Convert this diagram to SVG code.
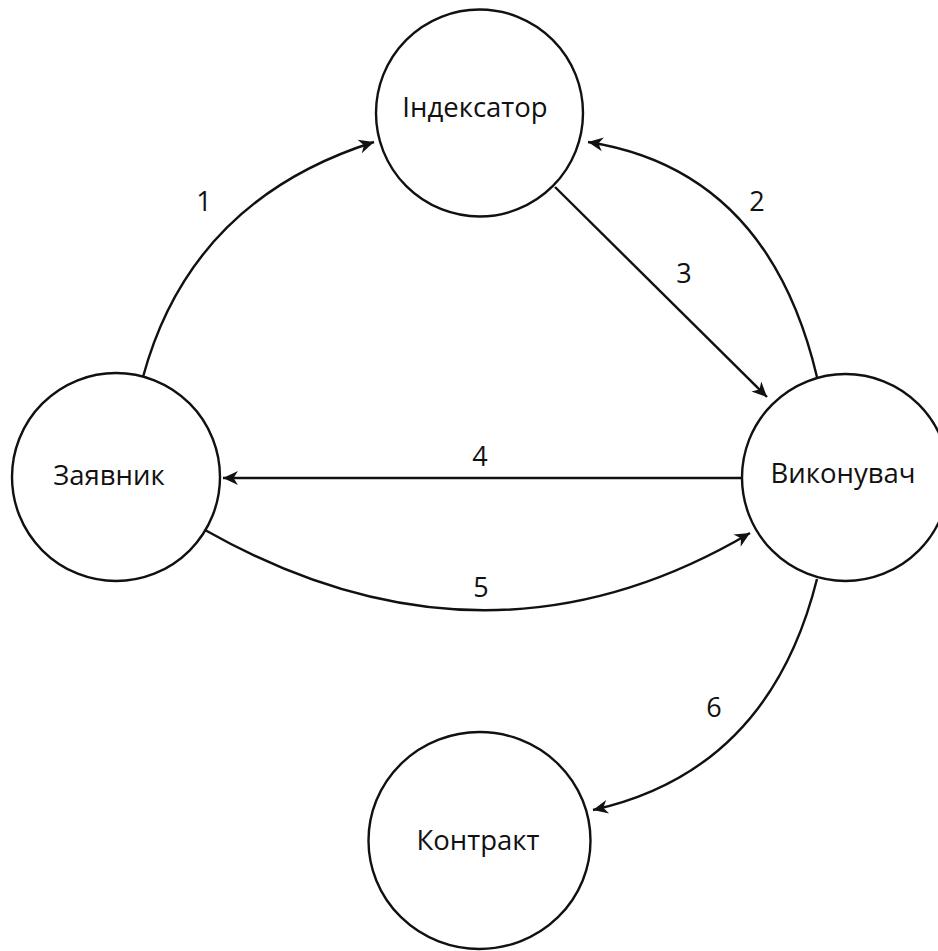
<svg xmlns="http://www.w3.org/2000/svg" width="938" height="951" viewBox="0 0 938 951">
  <style>
    .node { fill: #ffffff; stroke: #111111; stroke-width: 2.4; }
    .lbl { font-family: "Open Sans", "Noto Sans", "DejaVu Sans", sans-serif; font-size: 27.5px; fill: #111111; text-anchor: middle; }
    .num { font-family: "Open Sans", "Noto Sans", "DejaVu Sans", sans-serif; font-size: 27px; fill: #111111; text-anchor: middle; }
    .edge { fill: none; stroke: #111111; stroke-width: 2.4; marker-end: url(#arr); }
  </style>
  <defs>
    <marker id="arr" markerUnits="userSpaceOnUse" markerWidth="20" markerHeight="18" viewBox="-17 -9 19 18" refX="0" refY="0" orient="auto">
      <path d="M0,0 L-15,-7 L-10.5,0 L-15,7 Z" fill="#111111"/>
    </marker>
  </defs>
  <rect width="938" height="951" fill="#ffffff"/>
  <g id="connectors">
    <path id="e1" class="edge" d="M143,377 Q191,200 374,142"/>
    <path id="e2" class="edge" d="M817,377 Q768,170 588,142"/>
    <path id="e3" class="edge" d="M555,187 L767,397"/>
    <path id="e4" class="edge" d="M742,478 L223,478"/>
    <path id="e5" class="edge" d="M205,530 Q486,689 750,533"/>
    <path id="e6" class="edge" d="M817,579 Q769,771 593,810"/>
    <text class="num" x="204" y="211">1</text>
    <text class="num" x="757" y="211">2</text>
    <text class="num" x="684" y="283">3</text>
    <text class="num" x="480" y="466">4</text>
    <text class="num" x="481" y="597">5</text>
    <text class="num" x="714" y="717">6</text>
  </g>
  <g id="indexer">
    <circle class="node" cx="479.5" cy="113" r="103.5"/>
    <text class="lbl" x="475" y="117">Індексатор</text>
  </g>
  <g id="applicant">
    <circle class="node" cx="116" cy="477" r="104"/>
    <text class="lbl" x="109" y="485">Заявник</text>
  </g>
  <g id="executor">
    <circle class="node" cx="845.5" cy="477.5" r="103.5"/>
    <text class="lbl" x="843" y="483">Виконувач</text>
  </g>
  <g id="contract">
    <ellipse class="node" cx="479.5" cy="840.5" rx="111" ry="108.5"/>
    <text class="lbl" x="478" y="850">Контракт</text>
  </g>
</svg>
